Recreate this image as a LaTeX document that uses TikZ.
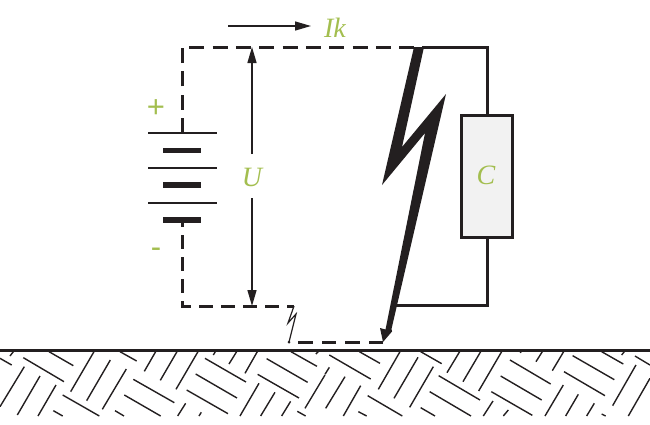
\documentclass[tikz,border=0pt]{standalone}
\usepackage{fontspec}
\setmainfont{Liberation Serif}
\newfontfamily\signfont{Liberation Sans}
\usetikzlibrary{arrows.meta}
\definecolor{linecol}{HTML}{231F20}
\definecolor{labelcol}{HTML}{A3BE4F}
\definecolor{boxfill}{HTML}{F2F2F2}
\tikzset{
  x=1pt,y=-1pt,
  wire/.style={draw=linecol,line width=3pt,line join=miter},
  dashwire/.style={wire,dash pattern=on 15pt off 8.33pt},
  dashwireb/.style={wire,dash pattern=on 14pt off 8pt},
  thinplate/.style={draw=linecol,line width=2.4pt},
  thickplate/.style={draw=linecol,line width=5.5pt},
  dimline/.style={draw=linecol,line width=1.4pt,-{Triangle[length=16pt,width=9pt]}},
  hatchline/.style={draw=linecol,line width=1.4pt},
  lbl/.style={text=labelcol,font=\itshape\fontsize{28}{28}\selectfont,inner sep=0pt},
  signlbl/.style={text=labelcol,font=\signfont\fontsize{31}{31}\selectfont,inner sep=0pt},
  boltfill/.style={fill=linecol,draw=none},
}
\begin{document}
\begin{tikzpicture}
\useasboundingbox (0,0) rectangle (650,424);
% named points
\coordinate (topL) at (182,47);
\coordinate (topJ) at (422,47);
\coordinate (topR) at (487,47);
\coordinate (botR) at (487,305);
\coordinate (boltJ) at (393,305);
\coordinate (botL) at (182,306);
\coordinate (botM) at (294,306);
\coordinate (gapEnd) at (289,342);
\coordinate (tip) at (383,342);
\coordinate (batTop) at (182,133);
\coordinate (batBot) at (182,220);
\coordinate (uTop) at (252,47);
\coordinate (uBot) at (252,306);
\coordinate (uA) at (252,154);
\coordinate (uB) at (252,198);
\coordinate (ikA) at (228,26);
\coordinate (ikB) at (311,26);
% capacitor
\node[draw=linecol,line width=3pt,fill=boxfill,minimum width=51pt,minimum height=122pt,inner sep=0pt,outer sep=0pt] (cbox) at (486.5,176) {};
\node[lbl] (clabel) at (486,175.5) {C};
% wires
\draw[wire] (topJ) -- (topR) -- (cbox.north -| topR);
\draw[wire] (cbox.south -| botR) -- (botR) -- (boltJ);
\draw[dashwire] (batTop) -- (topL) -- (topJ);
\draw[dashwireb,dash phase=7pt] (batBot) -- (botL) -- (botM);
\draw[dashwire,dash pattern=on 14.5pt off 9pt] (tip) -- (gapEnd);
% battery
\draw[thinplate] (148,133) -- (217,133);
\draw[thinplate] (148,168) -- (217,168);
\draw[thinplate] (148,203) -- (217,203);
\draw[thickplate] (163,150.7) -- (201,150.7);
\draw[thickplate] (163,185) -- (201,185);
\draw[thickplate] (163,220) -- (201,220);
% big bolt
\fill[boltfill] (414,47) -- (424,47) -- (402,147) -- (446,94) -- (391.5,329) -- (392,331.5) -- (383,342) -- (380,328) -- (385.5,329.5) -- (425,133) -- (382,185) -- cycle;
% small bolt
\draw[linecol,line width=1.2pt,line join=miter] (botM) -- (288,323) -- (296,314) -- (gapEnd);
\fill[linecol] (gapEnd) circle (1.5pt);
% dimension arrows
\draw[dimline] (uA) -- (uTop);
\draw[dimline] (uB) -- (uBot);
\draw[dimline] (ikA) -- (ikB);
% labels
\node[lbl] (ulabel) at (252,177.5) {U};
\node[lbl] (iklabel) at (335,27.5) {Ik};
\node[signlbl] (plus) at (156,109) {+};
\node[signlbl] (minus) at (156,253) {-};
% ground
\draw[draw=linecol,line width=3pt] (0,350) -- (650,350);
\begin{scope}
\clip (0,351) rectangle (650,416);
\begin{scope}[shift={(0,340)},x=0.3333pt,y=-0.3333pt]
\foreach \a/\b/\c/\d in {30/48/40/35,0/200/73/80,52/225/120/108,114/228/168/135,212/155/282/35,260/182/331/60,307/208/379/87,433/94/467/35,481/121/531/35,528/148/594/35,640/45/646/35,687/72/710/35,735/100/772/35,720/228/777/130,782/228/825/157,845/228/872/184,915/205/975/105,948/42/955/35,533/228/557/190,597/228/604/217,
0/55/35/75,70/53/192/125,147/35/220/77,188/165/298/228,160/212/188/228,345/212/372/228,373/165/482/228,360/35/410/63,400/118/523/188,560/150/684/221,587/102/711/174,615/55/738/126,773/103/897/174,800/56/923/127,873/35/951/79,892/214/917/228}
  \draw[hatchline] (\a,\b) -- (\c,\d);
\end{scope}
\begin{scope}[shift={(325,340)},x=0.3333pt,y=-0.3333pt]
\foreach \a/\b/\c/\d in {0/103/13/82,2/205/60/110,55/228/107/137,160/148/225/35,207/175/279/52,254/202/325/80,366/98/404/35,414/125/467/35,461/153/530/35,585/38/589/35,633/65/652/35,682/92/716/35,660/228/715/135,722/228/760/163,785/228/808/190,863/197/933/75,910/228/975/115,890/45/898/35,475/228/504/183,535/228/550/210,
13/45/137/117,103/35/165/70,128/167/232/228,100/215/125/228,287/35/350/71,287/203/330/228,314/155/438/228,341/107/465/180,499/155/622/226,527/108/650/180,555/60/677/132,717/95/840/167,743/47/868/119,830/35/895/72,930/48/975/75,830/222/842/228}
  \draw[hatchline] (\a,\b) -- (\c,\d);
\end{scope}
\end{scope}
\end{tikzpicture}
\end{document}
